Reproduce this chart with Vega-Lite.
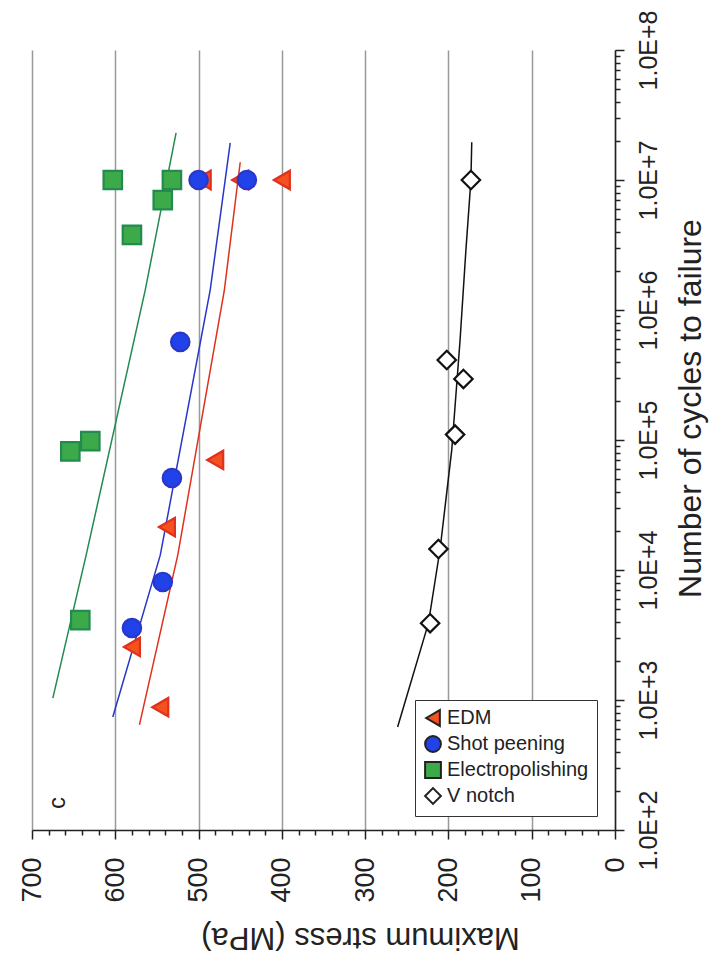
{
  "$schema": "https://vega.github.io/schema/vega-lite/v6.json",
  "width": 583,
  "height": 780,
  "autosize": {"type": "none"},
  "padding": {"left": 32, "top": 50, "right": 95, "bottom": 131},
  "background": "white",
  "config": {
    "view": {"stroke": null},
    "font": "Liberation Sans"
  },
  "datasets": {
    "points": [
      {"series": "EDM", "cycles": 880, "stress": 546},
      {"series": "EDM", "cycles": 2560, "stress": 580},
      {"series": "EDM", "cycles": 21400, "stress": 538},
      {"series": "EDM", "cycles": 70200, "stress": 480},
      {"series": "EDM", "cycles": 10000000, "stress": 495},
      {"series": "EDM", "cycles": 10000000, "stress": 450},
      {"series": "EDM", "cycles": 10000000, "stress": 400},
      {"series": "Shot peening", "cycles": 3580, "stress": 580},
      {"series": "Shot peening", "cycles": 8090, "stress": 543},
      {"series": "Shot peening", "cycles": 51000, "stress": 532},
      {"series": "Shot peening", "cycles": 568000, "stress": 522},
      {"series": "Shot peening", "cycles": 10000000, "stress": 500},
      {"series": "Shot peening", "cycles": 10000000, "stress": 442},
      {"series": "Electropolishing", "cycles": 4120, "stress": 642},
      {"series": "Electropolishing", "cycles": 81800, "stress": 654},
      {"series": "Electropolishing", "cycles": 98000, "stress": 630},
      {"series": "Electropolishing", "cycles": 3780000, "stress": 580},
      {"series": "Electropolishing", "cycles": 7000000, "stress": 543},
      {"series": "Electropolishing", "cycles": 10000000, "stress": 532},
      {"series": "Electropolishing", "cycles": 10000000, "stress": 603},
      {"series": "V notch", "cycles": 3900, "stress": 222},
      {"series": "V notch", "cycles": 14500, "stress": 212},
      {"series": "V notch", "cycles": 110000, "stress": 192},
      {"series": "V notch", "cycles": 295000, "stress": 182},
      {"series": "V notch", "cycles": 412000, "stress": 202},
      {"series": "V notch", "cycles": 10000000, "stress": 173}
    ],
    "fits": [
      {"series": "EDM", "cycles": 643, "stress": 571},
      {"series": "EDM", "cycles": 13000, "stress": 525},
      {"series": "EDM", "cycles": 1430000, "stress": 469},
      {"series": "EDM", "cycles": 13700000, "stress": 450},
      {"series": "Shot peening", "cycles": 740, "stress": 603},
      {"series": "Shot peening", "cycles": 13000, "stress": 546},
      {"series": "Shot peening", "cycles": 1430000, "stress": 486},
      {"series": "Shot peening", "cycles": 19300000, "stress": 462},
      {"series": "Electropolishing", "cycles": 1035, "stress": 675},
      {"series": "Electropolishing", "cycles": 13000, "stress": 635},
      {"series": "Electropolishing", "cycles": 1430000, "stress": 564},
      {"series": "Electropolishing", "cycles": 23000000, "stress": 527},
      {"series": "V notch", "cycles": 620, "stress": 261},
      {"series": "V notch", "cycles": 3900, "stress": 224},
      {"series": "V notch", "cycles": 14500, "stress": 210},
      {"series": "V notch", "cycles": 84000, "stress": 196},
      {"series": "V notch", "cycles": 590000, "stress": 186},
      {"series": "V notch", "cycles": 2900000, "stress": 179},
      {"series": "V notch", "cycles": 10000000, "stress": 173},
      {"series": "V notch", "cycles": 19500000, "stress": 172}
    ],
    "notes": [
      {"label": "c", "cycles": 161, "stress": 669}
    ]
  },
  "encoding": {
    "x": {
      "field": "stress",
      "type": "quantitative",
      "scale": {"domain": [0, 700], "reverse": true, "nice": false, "zero": false},
      "axis": {
        "orient": "bottom",
        "values": [0,20,40,60,80,100,120,140,160,180,200,220,240,260,280,300,320,340,360,380,400,420,440,460,480,500,520,540,560,580,600,620,640,660,680,700],
        "labelExpr": "datum.value % 100 == 0 ? datum.label : ''",
        "labelAngle": -90,
        "labelAlign": "right",
        "labelBaseline": "middle",
        "labelFlush": false,
        "labelOverlap": false,
        "labelFontSize": 27,
        "labelColor": "#222",
        "labelPadding": 18,
        "tickColor": "#222",
        "tickWidth": 1.5,
        "tickSize": {"condition": {"test": "datum.value % 100 == 0", "value": 9}, "value": 5},
        "domainColor": "#222",
        "domainWidth": 1.5,
        "grid": true,
        "gridColor": "#999",
        "gridWidth": 1.5,
        "gridOpacity": {"condition": {"test": "datum.value % 100 == 0", "value": 1}, "value": 0},
        "title": "Maximum stress (MPa)",
        "titleAngle": 180,
        "titleFontSize": 31,
        "titleFontWeight": "normal",
        "titleColor": "#222",
        "titleAlign": "center",
        "titleBaseline": "middle",
        "titleX": 328,
        "titleY": 106
      }
    },
    "y": {
      "field": "cycles",
      "type": "quantitative",
      "scale": {"type": "log", "domain": [100, 100000000], "nice": false, "zero": false},
      "axis": {
        "orient": "right",
        "values": [100,200,300,400,500,600,700,800,900,1000,2000,3000,4000,5000,6000,7000,8000,9000,10000,20000,30000,40000,50000,60000,70000,80000,90000,100000,200000,300000,400000,500000,600000,700000,800000,900000,1000000,2000000,3000000,4000000,5000000,6000000,7000000,8000000,9000000,10000000,20000000,30000000,40000000,50000000,60000000,70000000,80000000,90000000,100000000],
        "labelExpr": "abs(log(datum.value)/LN10 - round(log(datum.value)/LN10)) < 0.000001 ? '1.0E+' + round(log(datum.value)/LN10) : ''",
        "labelAngle": -90,
        "labelAlign": "center",
        "labelBaseline": "top",
        "labelFlush": false,
        "labelOverlap": false,
        "labelFontSize": 25,
        "labelColor": "#222",
        "labelPadding": 12,
        "tickColor": "#222",
        "tickWidth": 1.5,
        "tickSize": {"condition": {"test": "abs(log(datum.value)/LN10 - round(log(datum.value)/LN10)) < 0.000001", "value": 9}, "value": 5},
        "domainColor": "#222",
        "domainWidth": 1.5,
        "grid": false,
        "title": "Number of cycles to failure",
        "titleAngle": -90,
        "titleFontSize": 32,
        "titleFontWeight": "normal",
        "titleColor": "#222",
        "titleAlign": "center",
        "titleBaseline": "alphabetic",
        "titleX": 85,
        "titleY": 358
      }
    }
  },
  "layer": [
    {
      "data": {"name": "fits"},
      "mark": {"type": "line", "strokeWidth": 1.5, "interpolate": "linear"},
      "encoding": {
        "order": {"field": "cycles", "type": "quantitative"},
        "stroke": {
          "field": "series",
          "type": "nominal",
          "scale": {"domain": ["V notch", "EDM", "Shot peening", "Electropolishing"], "range": ["#111111", "#e0301e", "#2a36c8", "#238a50"]},
          "legend": null
        }
      }
    },
    {
      "data": {"name": "points"},
      "mark": {"type": "point", "filled": true, "size": 340, "strokeWidth": 2.2, "opacity": 1},
      "encoding": {
        "color": {
          "field": "series",
          "type": "nominal",
          "scale": {"domain": ["EDM", "Shot peening", "Electropolishing", "V notch"], "range": ["#f4511e", "#2142e8", "#3daa4a", "#ffffff"]},
          "legend": {
            "title": null,
            "orient": "none",
            "legendX": 383,
            "legendY": 650,
            "padding": 8,
            "strokeColor": "#333",
            "fillColor": "white",
            "labelFontSize": 20,
            "labelColor": "#222",
            "labelLimit": 300,
            "symbolSize": 250,
            "symbolStrokeColor": "#222",
            "symbolStrokeWidth": 2
          }
        },
        "stroke": {
          "field": "series",
          "type": "nominal",
          "legend": null
        },
        "shape": {
          "field": "series",
          "type": "nominal",
          "scale": {"domain": ["EDM", "Shot peening", "Electropolishing", "V notch"], "range": ["triangle-left", "circle", "square", "diamond"]},
          "legend": {
            "title": null,
            "orient": "none",
            "legendX": 383,
            "legendY": 650,
            "padding": 8,
            "strokeColor": "#333",
            "fillColor": "white",
            "labelFontSize": 20,
            "labelColor": "#222",
            "labelLimit": 300,
            "symbolSize": 250,
            "symbolStrokeColor": "#222",
            "symbolStrokeWidth": 2
          }
        }
      }
    },
    {
      "data": {"name": "notes"},
      "mark": {"type": "text", "angle": 270, "fontSize": 24, "color": "#222", "align": "center", "baseline": "middle"},
      "encoding": {
        "text": {"field": "label"}
      }
    }
  ]
}
